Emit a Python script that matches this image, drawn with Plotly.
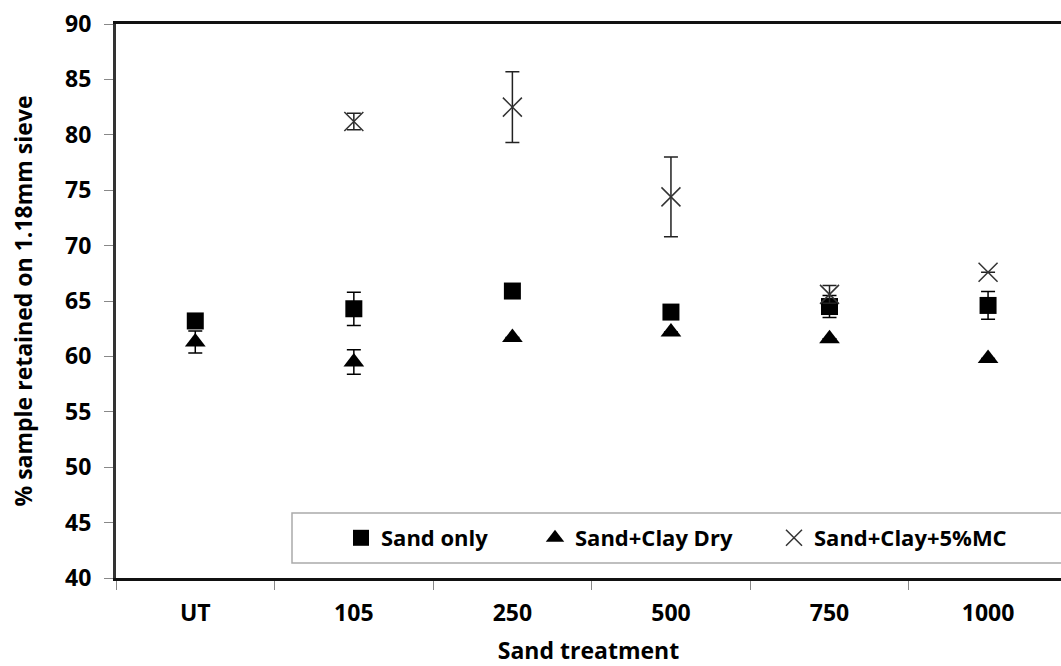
import plotly.graph_objects as go

categories = ["UT", "105", "250", "500", "750", "1000"]

sand_only = [63.2, 64.3, 65.9, 64.0, 64.5, 64.6]
sand_only_err = [None, 1.5, None, None, 1.0, 1.25]

clay_dry = [61.3, 59.5, 61.7, 62.2, 61.6, 59.8]
clay_dry_err = [1.0, 1.1, None, None, None, None]

clay_mc_cats = ["105", "250", "500", "750", "1000"]
clay_mc = [81.2, 82.5, 74.4, 65.6, 67.6]
clay_mc_err = [0.75, 3.2, 3.6, 0.8, None]

FONT = "Open Sans"
fs = 23

def errs(vals):
    return [v if v is not None else 0 for v in vals]

fig = go.Figure()

fig.add_trace(go.Scatter(
    x=categories, y=sand_only, mode="markers", name="Sand only",
    marker=dict(symbol="square", size=17, color="black"),
    error_y=dict(type="data", array=errs(sand_only_err), color="black", thickness=1.5, width=7),
    legend="legend",
))
fig.add_trace(go.Scatter(
    x=categories, y=clay_dry, mode="markers", name="Sand+Clay Dry",
    marker=dict(symbol="triangle-up", size=18, color="black"),
    error_y=dict(type="data", array=errs(clay_dry_err), color="black", thickness=1.5, width=7),
    legend="legend2",
))
fig.add_trace(go.Scatter(
    x=clay_mc_cats, y=clay_mc, mode="markers", name="Sand+Clay+5%MC",
    marker=dict(symbol="x-thin-open", size=19, color="#333333", line=dict(width=1.5, color="#333333")),
    error_y=dict(type="data", array=errs(clay_mc_err), color="#222222", thickness=1.5, width=7),
    legend="legend3",
))

L, T, B = 116, 24, 88
W, H = 1061, 666
pw = W - L
ph = H - T - B

def px_x(p):
    return (p - L) / pw

def px_y(p):
    return (H - B - p) / ph

leg_common = dict(
    orientation="h", yanchor="middle", xanchor="left",
    bgcolor="rgba(0,0,0,0)", borderwidth=0,
    font=dict(family=FONT, size=22, color="black"),
    itemwidth=30,
)

fig.update_layout(
    width=W, height=H,
    margin=dict(l=L, r=0, t=T, b=B),
    paper_bgcolor="white", plot_bgcolor="white",
    font=dict(family=FONT, size=fs, color="black", weight="bold"),
    showlegend=True,
    legend=dict(x=px_x(341), y=px_y(538), **leg_common),
    legend2=dict(x=px_x(535), y=px_y(538), **leg_common),
    legend3=dict(x=px_x(774), y=px_y(538), **leg_common),
    xaxis=dict(
        type="category", range=[-0.5, 5.46],
        tickson="boundaries", ticks="outside", ticklen=9, tickcolor="#888888", tickwidth=1,
        showline=True, linecolor="#111111", linewidth=3, mirror=True,
        showgrid=False, zeroline=False,
        tickfont=dict(family=FONT, size=fs, color="black", weight="bold"),
        ticklabelstandoff=12,
        title=dict(text="Sand treatment", font=dict(family=FONT, size=fs, color="black", weight="bold"), standoff=17),
        automargin=False,
    ),
    yaxis=dict(
        range=[40, 90], dtick=5, tick0=40,
        ticks="outside", ticklen=9, tickcolor="#888888", tickwidth=1,
        showline=True, linecolor="#333333", linewidth=3,
        showgrid=False, zeroline=False,
        tickfont=dict(family=FONT, size=fs, color="black", weight="bold"),
        ticklabelstandoff=8,
        title=dict(text="% sample retained on 1.18mm sieve", font=dict(family=FONT, size=fs, color="black", weight="bold"), standoff=27),
        automargin=False,
    ),
    shapes=[dict(
        type="rect", xref="paper", yref="paper",
        x0=px_x(292), x1=px_x(1075), y0=px_y(563), y1=px_y(513),
        line=dict(color="#aaaaaa", width=1.5), fillcolor="white", layer="below",
    )],
)

fig.write_html("out.html")
